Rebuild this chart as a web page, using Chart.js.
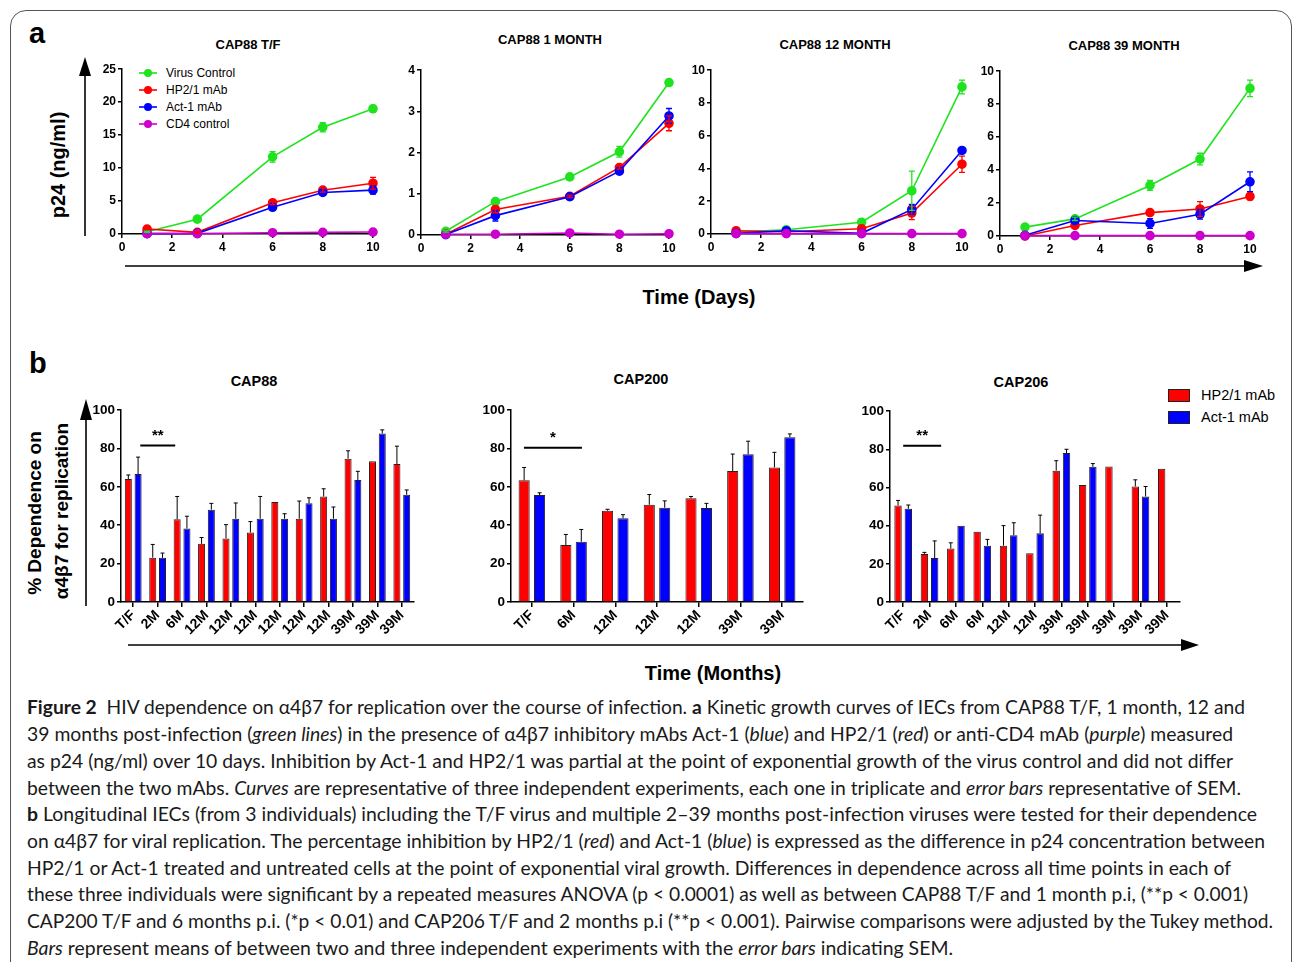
<!DOCTYPE html>
<html>
<head>
<meta charset="utf-8">
<script src="https://cdn.jsdelivr.net/npm/chart.js@4.4.1/dist/chart.umd.min.js"></script>
<style>
  body { margin: 0; width: 1293px; height: 962px; overflow: hidden; background: #fff; position: relative; font-family: "Liberation Sans", Arial, sans-serif; }
  .frame { position: absolute; left: 10px; top: 10px; width: 1280px; height: 1100px; border: 1.5px solid #555; border-radius: 16px; }
  .abs { position: absolute; white-space: nowrap; }
  canvas { position: absolute; }
  .title { font-weight: bold; font-size: 13px; transform: translate(-50%, -50%); }
  .btitle { font-weight: bold; font-size: 14.5px; transform: translate(-50%, -50%); }
  .panel { font-weight: bold; font-size: 29px; }
  .axlab { font-weight: bold; font-size: 20px; transform: translate(-50%, -50%); }
  .rot { font-weight: bold; transform: translate(-50%, -50%) rotate(-90deg); }
  .leg { font-size: 12px; display: flex; align-items: center; height: 17px; }
  .bleg { font-size: 14.5px; display: flex; align-items: center; height: 22px; }
  .cap { font-family: Lato, "Open Sans", sans-serif; font-size: 19px; line-height: 27px; transform-origin: 0 50%; color: #1a1a1a; }
</style>
</head>
<body>
<div class="frame"></div>

<svg class="abs" style="left:0;top:0" width="1293" height="962">
  <!-- panel a arrows -->
  <line x1="85" y1="72" x2="85" y2="236" stroke="#000" stroke-width="1.6"/>
  <polygon points="79,76 91,76 85,57" fill="#000"/>
  <line x1="125" y1="266" x2="1248" y2="266" stroke="#000" stroke-width="1.6"/>
  <polygon points="1244,260 1244,272 1263,266" fill="#000"/>
  <!-- panel b arrows -->
  <line x1="86" y1="415" x2="86" y2="606" stroke="#000" stroke-width="1.6"/>
  <polygon points="80,420 92,420 86,399" fill="#000"/>
  <line x1="128" y1="645" x2="1185" y2="645" stroke="#000" stroke-width="1.6"/>
  <polygon points="1181,639 1181,651 1199,645" fill="#000"/>
</svg>

<div class="abs panel" style="left:29px;top:17px">a</div>
<div class="abs panel" style="left:29px;top:347px">b</div>

<div class="abs title" style="left:248px;top:44px">CAP88 T/F</div>
<div class="abs title" style="left:550px;top:39px">CAP88 1 MONTH</div>
<div class="abs title" style="left:835px;top:44px">CAP88 12 MONTH</div>
<div class="abs title" style="left:1124px;top:45px">CAP88 39 MONTH</div>

<div class="abs rot" style="left:58px;top:165px;font-size:20px">p24 (ng/ml)</div>
<div class="abs axlab" style="left:699px;top:297px">Time (Days)</div>

<div class="abs btitle" style="left:254px;top:381px">CAP88</div>
<div class="abs btitle" style="left:641px;top:379px">CAP200</div>
<div class="abs btitle" style="left:1021px;top:382px">CAP206</div>

<div class="abs rot" style="left:35px;top:513px;font-size:19px">% Dependence on</div>
<div class="abs rot" style="left:62px;top:511px;font-size:19px">α4β7 for replication</div>
<div class="abs axlab" style="left:713px;top:673px">Time (Months)</div>

<div id="legA" class="abs" style="left:138px;top:64px"></div>
<div id="legB" class="abs" style="left:1168px;top:384px"></div>

<canvas id="c1" width="291" height="194" style="left:92px;top:60px"></canvas>
<canvas id="c2" width="288" height="194" style="left:391px;top:61px"></canvas>
<canvas id="c3" width="291" height="193" style="left:681px;top:61px"></canvas>
<canvas id="c4" width="290" height="194" style="left:970px;top:62px"></canvas>
<canvas id="b1" width="332" height="247" style="left:86px;top:400px"></canvas>
<canvas id="b2" width="331" height="247" style="left:476px;top:400px"></canvas>
<canvas id="b3" width="329" height="246" style="left:855px;top:401px"></canvas>

<div class="abs cap" data-w="1218" style="left:27px;top:693px"><b>Figure 2</b>&nbsp; HIV dependence on α4β7 for replication over the course of infection. <b>a</b> Kinetic growth curves of IECs from CAP88 T/F, 1 month, 12 and</div>
<div class="abs cap" data-w="1206" style="left:27px;top:720px">39 months post-infection (<i>green lines</i>) in the presence of α4β7 inhibitory mAbs Act-1 (<i>blue</i>) and HP2/1 (<i>red</i>) or anti-CD4 mAb (<i>purple</i>) measured</div>
<div class="abs cap" data-w="1206" style="left:27px;top:747px">as p24 (ng/ml) over 10 days. Inhibition by Act-1 and HP2/1 was partial at the point of exponential growth of the virus control and did not differ</div>
<div class="abs cap" data-w="1214" style="left:27px;top:774px">between the two mAbs. <i>Curves</i> are representative of three independent experiments, each one in triplicate and <i>error bars</i> representative of SEM.</div>
<div class="abs cap" data-w="1230" style="left:27px;top:800px"><b>b</b> Longitudinal IECs (from 3 individuals) including the T/F virus and multiple 2–39 months post-infection viruses were tested for their dependence</div>
<div class="abs cap" data-w="1238" style="left:27px;top:827px">on α4β7 for viral replication. The percentage inhibition by HP2/1 (<i>red</i>) and Act-1 (<i>blue</i>) is expressed as the difference in p24 concentration between</div>
<div class="abs cap" data-w="1204" style="left:27px;top:854px">HP2/1 or Act-1 treated and untreated cells at the point of exponential viral growth. Differences in dependence across all time points in each of</div>
<div class="abs cap" data-w="1221" style="left:27px;top:880px">these three individuals were significant by a repeated measures ANOVA (p &lt; 0.0001) as well as between CAP88 T/F and 1 month p.i, (**p &lt; 0.001)</div>
<div class="abs cap" data-w="1246" style="left:27px;top:907px">CAP200 T/F and 6 months p.i. (*p &lt; 0.01) and CAP206 T/F and 2 months p.i (**p &lt; 0.001). Pairwise comparisons were adjusted by the Tukey method.</div>
<div class="abs cap" data-w="926" style="left:27px;top:934px"><i>Bars</i> represent means of between two and three independent experiments with the <i>error bars</i> indicating SEM.</div>

<script>
// Panel a: p24 (ng/ml) by day
const days = [1, 3, 6, 8, 10];

const tfVirus = [0.35, 2.25, 11.7, 16.2, 19.0];
const tfVirusErr = [0.1, 0.2, 0.8, 0.7, 0.5];
const tfHp = [0.75, 0.25, 4.75, 6.65, 7.7];
const tfHpErr = [0.1, 0.1, 0.3, 0.3, 0.9];
const tfAct = [0.05, 0.1, 4.05, 6.3, 6.65];
const tfActErr = [0, 0, 0.3, 0.3, 0.6];
const tfCd4 = [0.05, 0.05, 0.2, 0.25, 0.3];

const m1Virus = [0.09, 0.81, 1.41, 2.02, 3.70];
const m1VirusErr = [0.02, 0.03, 0.08, 0.13, 0.06];
const m1Hp = [0.02, 0.62, 0.94, 1.64, 2.71];
const m1HpErr = [0, 0.08, 0.03, 0.04, 0.18];
const m1Act = [0.01, 0.47, 0.93, 1.55, 2.89];
const m1ActErr = [0, 0.13, 0.03, 0.04, 0.18];
const m1Cd4 = [0.02, 0.02, 0.05, 0.02, 0.03];

const m12Virus = [0.12, 0.26, 0.72, 2.64, 8.98];
const m12VirusErr = [0, 0, 0.05, 1.2, 0.42];
const m12Hp = [0.2, 0.14, 0.32, 1.28, 4.26];
const m12HpErr = [0, 0, 0, 0.4, 0.5];
const m12Act = [0.04, 0.2, 0.04, 1.5, 5.1];
const m12ActErr = [0, 0, 0, 0.3, 0.1];
const m12Cd4 = [0.02, 0.02, 0.02, 0.02, 0.02];

const m39Virus = [0.54, 1.04, 3.07, 4.67, 8.96];
const m39VirusErr = [0.05, 0.1, 0.3, 0.35, 0.5];
const m39Hp = [0.0, 0.64, 1.42, 1.64, 2.4];
const m39HpErr = [0, 0, 0.05, 0.45, 0.2];
const m39Act = [0.04, 0.94, 0.76, 1.32, 3.29];
const m39ActErr = [0, 0.15, 0.3, 0.3, 0.6];
const m39Cd4 = [0.02, 0.02, 0.02, 0.02, 0.02];

// Panel b: % dependence on a4b7
const cap88Labels = ['T/F', '2M', '6M', '12M', '12M', '12M', '12M', '12M', '12M', '39M', '39M', '39M'];
const cap88Hp = [64.1, 23.1, 43.1, 30.3, 33.1, 36.2, 52.1, 43.4, 55.0, 74.7, 73.3, 71.9];
const cap88HpErr = [2.1, 6.9, 11.9, 3.3, 7.2, 5.7, 0, 9.2, 4.0, 4.1, 0, 9.3];
const cap88Act = [66.7, 23.0, 38.3, 48.1, 43.4, 43.4, 43.4, 51.4, 43.4, 63.6, 87.8, 55.9];
const cap88ActErr = [8.8, 2.5, 6.4, 3.3, 8.2, 11.6, 2.6, 2.9, 6.1, 4.5, 1.9, 2.5];

const cap200Labels = ['T/F', '6M', '12M', '12M', '12M', '39M', '39M'];
const cap200Hp = [63.4, 29.7, 47.6, 50.7, 54.0, 68.2, 70.1];
const cap200HpErr = [6.7, 5.5, 0.7, 5.3, 1.0, 8.9, 7.9];
const cap200Act = [55.7, 31.4, 43.6, 49.1, 49.0, 77.0, 85.9];
const cap200ActErr = [1.2, 6.4, 1.9, 3.6, 2.4, 6.8, 1.7];

const cap206Labels = ['T/F', '2M', '6M', '6M', '12M', '12M', '39M', '39M', '39M', '39M', '39M'];
const cap206Hp = [50.5, 25.2, 28.0, 36.8, 29.5, 25.5, 68.8, 61.3, 71.0, 60.5, 69.8];
const cap206HpErr = [2.7, 0.8, 3.0, 0, 10.5, 0, 5.2, 0, 0, 3.5, 0];
const cap206Act = [48.8, 23.0, 40.0, 29.5, 35.0, 36.0, 78.0, 70.8, null, 55.3, null];
const cap206ActErr = [2.0, 9.0, 0, 3.3, 6.5, 9.5, 2.0, 1.7, 0, 5.2, 0];

const GREEN = '#1fe31f', RED = '#ff0000', BLUE = '#0000ff', PURPLE = '#cc00cc';

Chart.defaults.font.family = '"Liberation Sans", Arial, sans-serif';

// error bars: symmetric for the curves, upward only for the bars
const errorBars = {
  id: 'errorBars',
  afterDatasetsDraw(chart, args, opts) {
    const ctx = chart.ctx;
    const ys = chart.scales.y;
    chart.data.datasets.forEach((ds, i) => {
      if (!ds.errors) return;
      const meta = chart.getDatasetMeta(i);
      ctx.save();
      ctx.strokeStyle = opts.color || ds.borderColor;
      ctx.lineWidth = opts.width || 1.3;
      meta.data.forEach((el, j) => {
        const e = ds.errors[j];
        const raw = ds.data[j];
        if (!e || raw == null) return;
        const v = typeof raw === 'object' ? raw.y : raw;
        const top = ys.getPixelForValue(v + e);
        const bot = opts.upOnly ? ys.getPixelForValue(v) : ys.getPixelForValue(v - e);
        const cw = opts.cap || 3;
        ctx.beginPath();
        ctx.moveTo(el.x, bot); ctx.lineTo(el.x, top);
        ctx.moveTo(el.x - cw, top); ctx.lineTo(el.x + cw, top);
        if (!opts.upOnly) { ctx.moveTo(el.x - cw, bot); ctx.lineTo(el.x + cw, bot); }
        ctx.stroke();
      });
      ctx.restore();
    });
  }
};

// significance bracket above the first columns
const sigLine = {
  id: 'sigLine',
  afterDraw(chart, args, o) {
    if (!o.text) return;
    const xs = chart.scales.x, ys = chart.scales.y, ctx = chart.ctx;
    const step = xs.getPixelForValue(1) - xs.getPixelForValue(0);
    const x0 = xs.getPixelForValue(0) + o.from * step;
    const x1 = xs.getPixelForValue(0) + o.to * step;
    const y = ys.getPixelForValue(o.level);
    ctx.save();
    ctx.strokeStyle = '#000';
    ctx.lineWidth = 2;
    ctx.beginPath(); ctx.moveTo(x0, y); ctx.lineTo(x1, y); ctx.stroke();
    ctx.fillStyle = '#000';
    ctx.font = 'bold 15px "Liberation Sans", Arial';
    ctx.textAlign = 'center';
    ctx.textBaseline = 'bottom';
    ctx.fillText(o.text, (x0 + x1) / 2, y - 2);
    ctx.restore();
  }
};

function axisStyle() {
  return {
    border: { display: true, color: '#000', width: 1.5 },
    grid: { drawOnChartArea: false, drawTicks: true, tickLength: 4, color: '#000', lineWidth: 1.5 }
  };
}

function lineChart(id, ymax, ystep, series) {
  const datasets = series.map(s => ({
    data: days.map((d, i) => ({ x: d, y: s.values[i] })),
    errors: s.errors,
    borderColor: s.color,
    backgroundColor: s.color,
    borderWidth: 1.6,
    pointRadius: 4,
    pointHoverRadius: 4,
    tension: 0,
    clip: false
  }));
  return new Chart(document.getElementById(id), {
    type: 'line',
    data: { datasets },
    options: {
      responsive: false,
      animation: false,
      layout: { padding: { top: 7, right: 10, left: 0, bottom: 0 } },
      plugins: { legend: { display: false }, tooltip: { enabled: false }, errorBars: { cap: 3 } },
      scales: {
        x: {
          type: 'linear', min: 0, max: 10,
          ...axisStyle(),
          ticks: { stepSize: 2, color: '#000', padding: 2, font: { size: 12, weight: 'bold' } },
          afterFit: s => { s.height = 20; }
        },
        y: {
          min: 0, max: ymax,
          ...axisStyle(),
          ticks: { stepSize: ystep, color: '#000', padding: 2, font: { size: 12, weight: 'bold' } },
          afterFit: s => { s.width = 30; }
        }
      }
    },
    plugins: [errorBars]
  });
}

function barChart(id, labels, hp, hpErr, act, actErr, sig, cp) {
  return new Chart(document.getElementById(id), {
    type: 'bar',
    data: {
      labels,
      datasets: [
        { label: 'HP2/1 mAb', data: hp, errors: hpErr, backgroundColor: RED, borderColor: '#222', borderWidth: 1 },
        { label: 'Act-1 mAb', data: act, errors: actErr, backgroundColor: BLUE, borderColor: '#222', borderWidth: 1 }
      ]
    },
    options: {
      responsive: false,
      animation: false,
      categoryPercentage: cp,
      barPercentage: 0.72,
      layout: { padding: { top: 8, right: 4, left: 0, bottom: 0 } },
      plugins: {
        legend: { display: false }, tooltip: { enabled: false },
        errorBars: { upOnly: true, color: '#000', width: 1, cap: 2 },
        sigLine: sig
      },
      scales: {
        x: {
          ...axisStyle(),
          grid: { drawOnChartArea: false, drawTicks: true, tickLength: 5, color: '#000', lineWidth: 1.5, offset: false },
          ticks: { color: '#000', minRotation: 45, maxRotation: 45, padding: 0, autoSkip: false, font: { size: 14, weight: 'bold' } },
          afterFit: s => { s.height = 45; }
        },
        y: {
          min: 0, max: 100,
          ...axisStyle(),
          ticks: { stepSize: 20, color: '#000', padding: 2, font: { size: 13.5, weight: 'bold' } },
          afterFit: s => { s.width = 35; }
        }
      }
    },
    plugins: [errorBars, sigLine]
  });
}

lineChart('c1', 25, 5, [
  { values: tfCd4, errors: null, color: PURPLE },
  { values: tfAct, errors: tfActErr, color: BLUE },
  { values: tfHp, errors: tfHpErr, color: RED },
  { values: tfVirus, errors: tfVirusErr, color: GREEN }
]);
lineChart('c2', 4, 1, [
  { values: m1Cd4, errors: null, color: PURPLE },
  { values: m1Act, errors: m1ActErr, color: BLUE },
  { values: m1Hp, errors: m1HpErr, color: RED },
  { values: m1Virus, errors: m1VirusErr, color: GREEN }
]);
lineChart('c3', 10, 2, [
  { values: m12Cd4, errors: null, color: PURPLE },
  { values: m12Act, errors: m12ActErr, color: BLUE },
  { values: m12Hp, errors: m12HpErr, color: RED },
  { values: m12Virus, errors: m12VirusErr, color: GREEN }
]);
lineChart('c4', 10, 2, [
  { values: m39Cd4, errors: null, color: PURPLE },
  { values: m39Act, errors: m39ActErr, color: BLUE },
  { values: m39Hp, errors: m39HpErr, color: RED },
  { values: m39Virus, errors: m39VirusErr, color: GREEN }
]);

barChart('b1', cap88Labels, cap88Hp, cap88HpErr, cap88Act, cap88ActErr, { text: '**', from: 0.29, to: 1.72, level: 81.5 }, 0.8);
barChart('b2', cap200Labels, cap200Hp, cap200HpErr, cap200Act, cap200ActErr, { text: '*', from: -0.19, to: 1.2, level: 80.4 }, 0.74);
barChart('b3', cap206Labels, cap206Hp, cap206HpErr, cap206Act, cap206ActErr, { text: '**', from: 0, to: 1.44, level: 81.8 }, 0.78);

// legends
const legA = document.getElementById('legA');
[['Virus Control', GREEN], ['HP2/1 mAb', RED], ['Act-1 mAb', BLUE], ['CD4 control', PURPLE]].forEach(([t, c]) => {
  legA.innerHTML += `<div class="leg"><svg width="28" height="10"><line x1="1" y1="5" x2="19" y2="5" stroke="${c}" stroke-width="1.6"/><circle cx="10" cy="5" r="4" fill="${c}"/></svg>${t}</div>`;
});
const legB = document.getElementById('legB');
[['HP2/1 mAb', RED], ['Act-1 mAb', BLUE]].forEach(([t, c]) => {
  legB.innerHTML += `<div class="bleg"><span style="display:inline-block;width:20px;height:11px;background:${c};border:1px solid #222;margin-right:11px"></span>${t}</div>`;
});

// squeeze caption lines to the measured widths
function fitCaption() {
  document.querySelectorAll('.cap').forEach(el => {
    const w = el.getBoundingClientRect().width;
    el.style.transform = `scaleX(${(+el.dataset.w / w).toFixed(4)})`;
  });
}
document.fonts.ready.then(fitCaption);
</script>
</body>
</html>
